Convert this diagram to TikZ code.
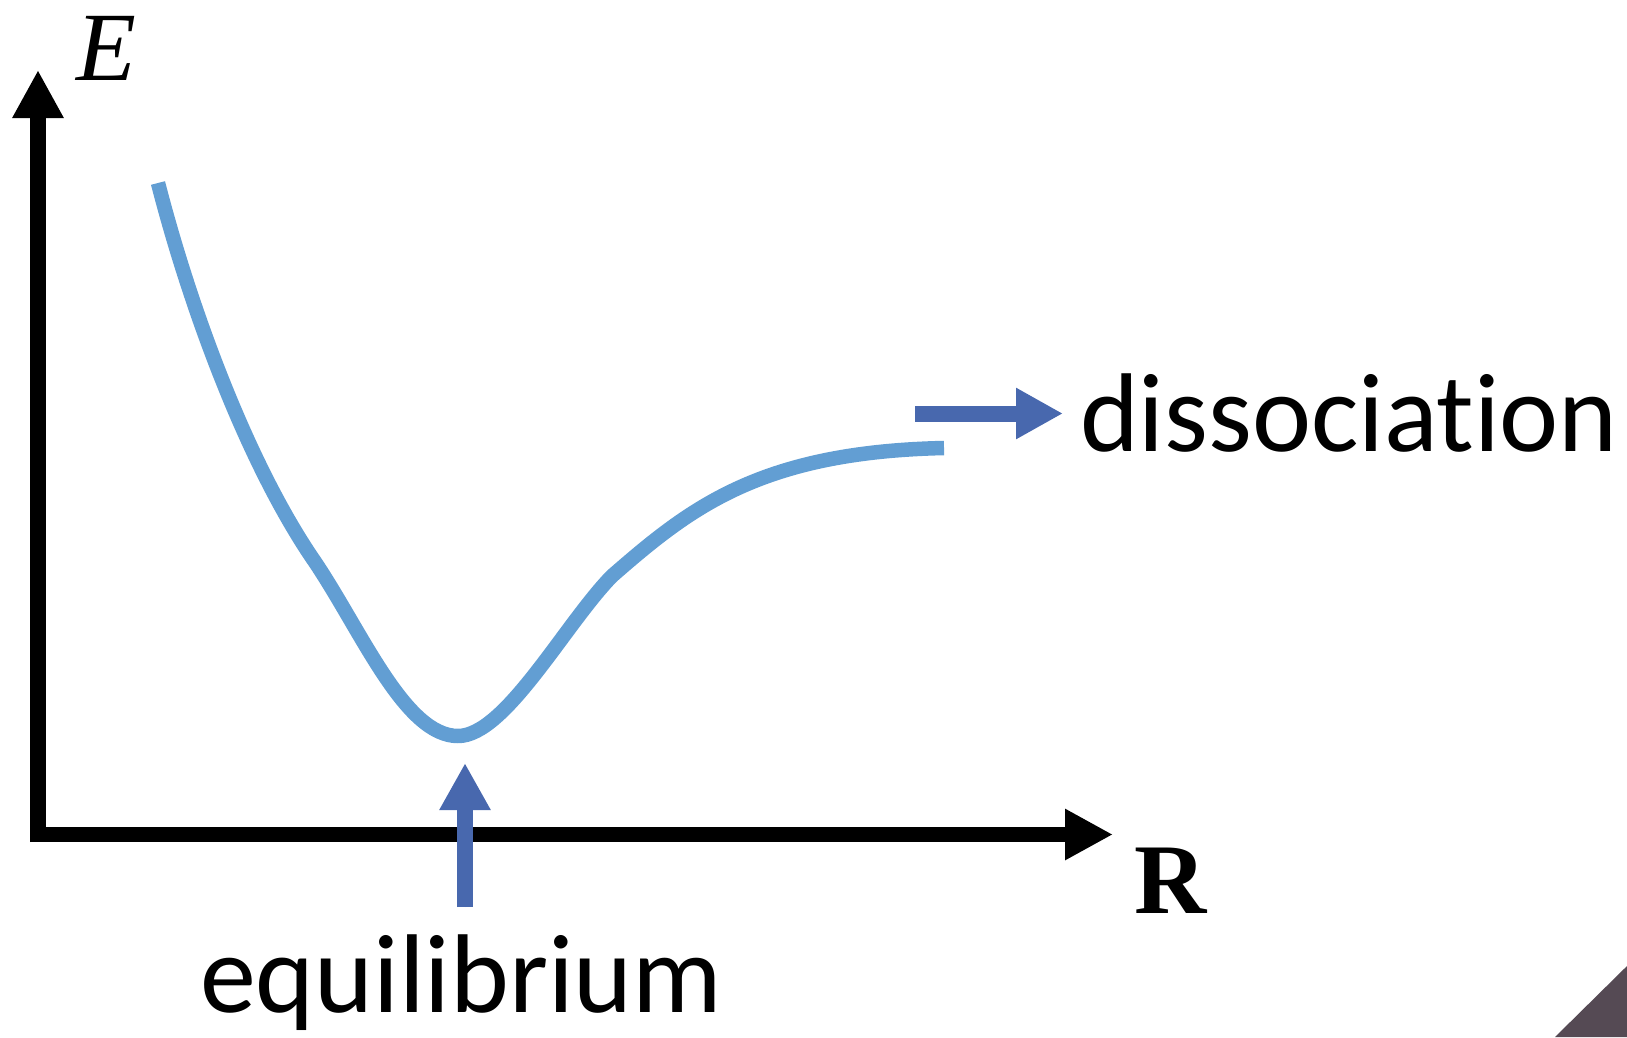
\documentclass[tikz,border=0pt]{standalone}
\usepackage{fontspec}
\setmainfont{Liberation Serif}
\newfontfamily\calibri[Ligatures=NoCommon]{Carlito}
\usetikzlibrary{arrows.meta}
\definecolor{curveblue}{RGB}{98,158,211}
\definecolor{arrowblue}{RGB}{72,104,174}
\definecolor{cornergray}{RGB}{85,74,84}
\tikzset{
  axisline/.style={line width=15.5pt, -{Triangle[length=48pt,width=48pt]}},
  bigarrow/.style={draw=arrowblue, fill=arrowblue, line width=16pt, -{Triangle[length=47pt,width=48pt]}},
  pes/.style={curveblue, line width=14.5pt, line join=round},
  lbl/.style={inner sep=0pt, outer sep=0pt},
}
\begin{document}
\begin{tikzpicture}[x=1pt,y=-1pt]
\useasboundingbox (0,0) rectangle (1627,1037);
% corner decoration
\fill[cornergray] (1555,1037) -- (1627,966) -- (1627,1037) -- cycle;
% axes
\coordinate (vbot) at (38,842);
\coordinate (vtop) at (38,70);
\coordinate (hleft) at (31,834.5);
\coordinate (hright) at (1113,834.5);
\draw[axisline] (vbot) -- (vtop);
\draw[axisline] (hleft) -- (hright);
% axis labels
\node[lbl, anchor=base, font=\fontsize{98}{110}\selectfont\itshape] (E) at (106,80) {E};
\node[lbl, anchor=base, font=\fontsize{100}{112}\selectfont\bfseries] (R) at (1171,913) {R};
% potential energy curve
\coordinate (c0) at (158,183);
\coordinate (c1) at (315,562);
\coordinate (cmin) at (458,736);
\coordinate (c2) at (612,576);
\coordinate (c3) at (944,448);
\draw[pes] (c0) .. controls (192,315) and (250,468) .. (c1)
  .. controls (362,632) and (405,736) .. (cmin)
  .. controls (505,736) and (565,624) .. (c2)
  .. controls (690,508) and (760,452) .. (c3);
% labels
\node[lbl, anchor=base west, font=\calibri\fontsize{112}{134}\selectfont] (diss) at (1080,451) {dissociation};
\node[lbl, anchor=base west, font=\calibri\fontsize{112}{134}\selectfont] (equi) at (200,1012) {equilibrium};
% arrows
\coordinate (dstart) at (915,413.5);
\coordinate (dend) at (1063,413.5);
\draw[bigarrow] (dstart) -- (dend);
\coordinate (estart) at (465,907);
\coordinate (eend) at (465,763);
\draw[bigarrow] (estart) -- (eend);
\end{tikzpicture}
\end{document}
